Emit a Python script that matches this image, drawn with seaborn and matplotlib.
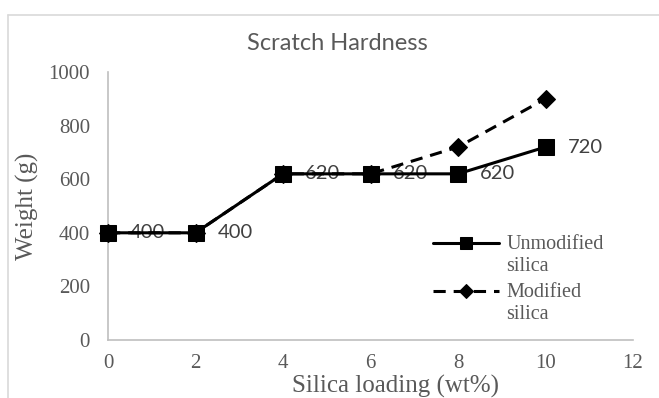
import matplotlib
matplotlib.use("Agg")
import matplotlib.pyplot as plt
from matplotlib.lines import Line2D
from matplotlib.legend_handler import HandlerLine2D
from matplotlib.transforms import Affine2D
import seaborn as sns
import pandas as pd

# ---- data ----
loading = [0, 2, 4, 6, 8, 10]
unmodified = [400, 400, 620, 620, 620, 720]
modified = [400, 400, 620, 620, 720, 900]
series_names = ["Unmodified\nsilica", "Modified\nsilica"]
x_ticks = [0, 2, 4, 6, 8, 10, 12]
y_ticks = [0, 200, 400, 600, 800, 1000]
title = "Scratch Hardness"
x_label = "Silica loading (wt%)"
y_label = "Weight (g)"

sns.set_style("white")
plt.rcParams["font.family"] = ["Liberation Serif", "DejaVu Serif"]

W, H = 659, 398
fig = plt.figure(figsize=(W / 100, H / 100), dpi=100)
ax = fig.add_axes([108 / W, 58 / H, 525 / W, 268 / H])

df_mod = pd.DataFrame({"x": loading, "y": modified})
df_unm = pd.DataFrame({"x": loading, "y": unmodified})

sns.lineplot(data=df_mod, x="x", y="y", ax=ax, color="black", linewidth=2.2,
             marker="D", markersize=9, markeredgecolor="black", markerfacecolor="black",
             label=series_names[1])
line_mod = ax.lines[-1]
line_mod.set_dashes((4, 2.6))
sns.lineplot(data=df_unm, x="x", y="y", ax=ax, color="black", linewidth=2.2,
             marker="s", markersize=11, markeredgecolor="black", markerfacecolor="black",
             label=series_names[0])
line_unm = ax.lines[-1]
for ln in ax.lines:
    ln.set_clip_on(False)
line_mod.set_zorder(3)
line_unm.set_zorder(4)

# data labels for unmodified series
for xv, yv in zip(loading, unmodified):
    ax.annotate(str(yv), (xv, yv), xytext=(16, 0), textcoords="offset points",
                ha="left", va="center", fontsize=14.5, color="#404040",
                family=["Lato", "DejaVu Sans"], zorder=2)

ax.set_xlim(0, 12)
ax.set_ylim(0, 1000)
ax.set_xticks(x_ticks)
ax.set_yticks(y_ticks)
ax.tick_params(axis="both", length=0, labelsize=15, labelcolor="#595959")
ax.tick_params(axis="y", pad=13)
ax.tick_params(axis="x", pad=10)

for s in ["top", "right"]:
    ax.spines[s].set_visible(False)
for s in ["left", "bottom"]:
    ax.spines[s].set_color("#bfbfbf")
    ax.spines[s].set_linewidth(1.2)

ax.set_xlabel(x_label, fontsize=18, color="#595959", va="baseline")
ax.xaxis.set_label_coords((396 - 108) / 525, (340 - 393) / 268)
ax.set_ylabel(y_label, fontsize=18, color="#595959", va="center")
ax.yaxis.set_label_coords((27 - 108) / 525, 0.5)

ax.set_title(title, x=(337 - 108) / 525, y=(340 - 58) / 268, va="baseline",
             fontsize=17, color="#595959", family=["Lato", "DejaVu Sans"])

LEG_FS = 14.5
LEG_LS = 1.2


class TopLineHandler(HandlerLine2D):
    """Align the legend handle with the first line of a two-line label."""
    def create_artists(self, legend, orig_handle, xdescent, ydescent, width, height,
                       fontsize, trans):
        arts = super().create_artists(legend, orig_handle, xdescent, ydescent, width,
                                      height, fontsize, trans)
        dy = LEG_LS * fontsize / 2
        for a in arts:
            a.set_transform(Affine2D().translate(0, dy) + trans)
            if a.get_marker() not in (None, "None", ""):
                a.set_markersize(8 if a.get_marker() == "s" else 7)
        return arts


handles = [line_unm, line_mod]
leg = ax.legend(handles, series_names, loc="upper left",
                bbox_to_anchor=(433 / W, 1 - 235 / H), bbox_transform=fig.transFigure,
                frameon=False, fontsize=LEG_FS, handlelength=3.3, handletextpad=0.35,
                borderpad=0, borderaxespad=0, labelspacing=0.35,
                handler_map={Line2D: TopLineHandler()})
for t in leg.get_texts():
    t.set_color("#595959")
    t.set_linespacing(LEG_LS)

# chart area border (cropped by image edges)
fig.add_artist(Line2D([7.5 / W, 7.5 / W], [0, 1 - 14.5 / H], transform=fig.transFigure,
                      color="#d9d9d9", linewidth=1.2))
fig.add_artist(Line2D([7.5 / W, 1], [1 - 14.5 / H, 1 - 14.5 / H], transform=fig.transFigure,
                      color="#d9d9d9", linewidth=1.2))

fig.savefig("out.png", dpi=100)
